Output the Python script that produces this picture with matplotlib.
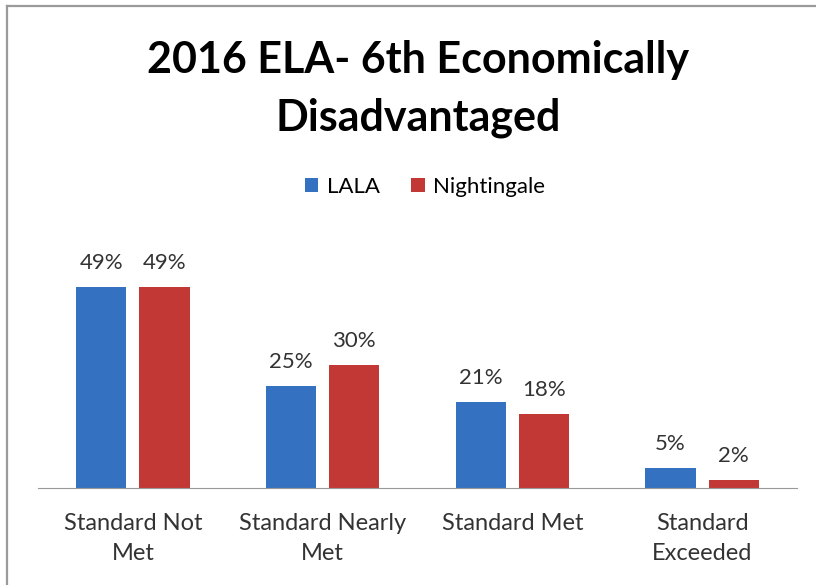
import numpy as np
import matplotlib.pyplot as plt
from matplotlib.lines import Line2D

categories = ['Standard Not\nMet', 'Standard Nearly\nMet', 'Standard Met', 'Standard\nExceeded']
lala = [49, 25, 21, 5]
nightingale = [49, 30, 18, 2]

plt.rcParams['font.family'] = ['Lato', 'DejaVu Sans']

fig = plt.figure(figsize=(8.16, 5.85), dpi=100)
# frame: only top and left edges show in the picture
for xs, ys in (([7/816, 1], [1 - 6/585] * 2), ([7/816] * 2, [0, 1 - 6/585])):
    fig.lines.append(Line2D(xs, ys, transform=fig.transFigure, color='#9a9a9a', lw=1.6))

ax = fig.add_axes([38/816, (585-488)/585, 759/816, 250/585])
x = np.arange(len(categories))
w = 0.265
off = 0.167
b1 = ax.bar(x - off, lala, w, color='#3571C1', label='LALA')
b2 = ax.bar(x + off, nightingale, w, color='#C23835', label='Nightingale')

for bars in (b1, b2):
    for r in bars:
        ax.annotate(f'{r.get_height():.0f}%', (r.get_x() + r.get_width()/2, r.get_height()),
                    xytext=(0, 10), textcoords='offset points', ha='center', va='bottom',
                    fontsize=16, color='#333333')

ax.set_xlim(-0.5, 3.5)
ax.set_ylim(0, 61)
ax.set_xticks(x)
ax.set_xticklabels(categories, fontsize=17, color='#333333', linespacing=1.5)
ax.tick_params(axis='x', length=0, pad=18)
ax.set_yticks([])
for s in ('top', 'right', 'left'):
    ax.spines[s].set_visible(False)
ax.spines['bottom'].set_color('#999999')

fig.text(0.512, 1 - 89/585, '2016 ELA- 6th Economically\nDisadvantaged', ha='center', va='center',
         fontsize=31, fontweight='bold', linespacing=1.55)
fig.legend(handles=[b1, b2], loc='center', bbox_to_anchor=(0.521, 1 - 187/585), ncol=2,
           frameon=False, fontsize=16, handlelength=0.6, handleheight=0.6, columnspacing=1.4,
           handletextpad=0.4)

fig.savefig('out.png', dpi=100)
